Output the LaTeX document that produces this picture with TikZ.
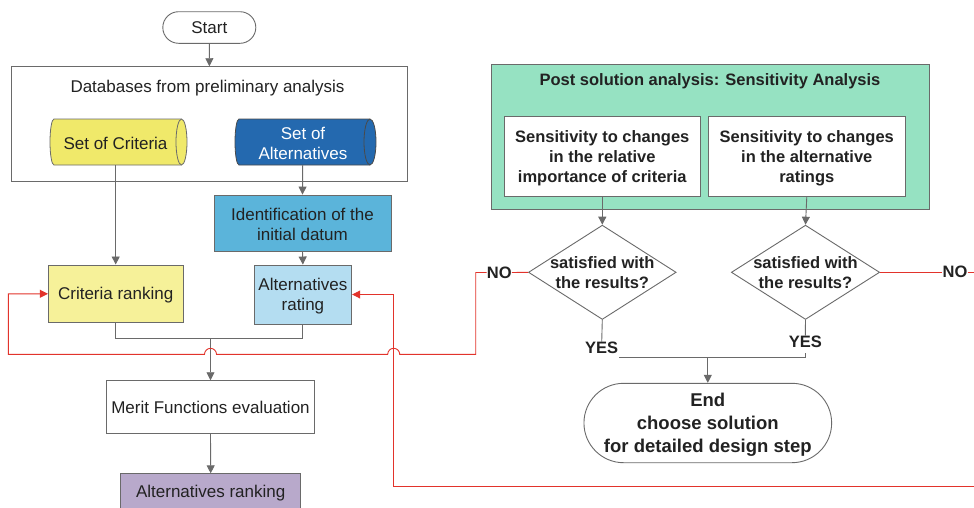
\documentclass[tikz,border=0pt]{standalone}
\usepackage{fontspec}
\setmainfont{Liberation Sans}
\usetikzlibrary{shapes.geometric,shapes.misc,arrows.meta}
\definecolor{gline}{HTML}{6A6A6A}
\definecolor{txt}{HTML}{222222}
\definecolor{cylyel}{HTML}{F0E96A}
\definecolor{lyel}{HTML}{F6F199}
\definecolor{cylblue}{HTML}{2469AF}
\definecolor{identblue}{HTML}{5BB4DA}
\definecolor{lblue}{HTML}{B4DDF1}
\definecolor{lilac}{HTML}{B8A9CB}
\definecolor{mint}{HTML}{96E2C2}
\definecolor{redl}{HTML}{E2332B}
\begin{document}
\begin{tikzpicture}[x=1pt,y=1pt,
  font=\fontsize{17}{20}\selectfont,
  box/.style={draw=gline, line width=0.9pt, rectangle, inner sep=0pt, align=center, text=txt},
  lbl/.style={inner sep=0pt, align=center, text=txt},
  bld/.style={lbl, font=\fontsize{16.5}{20}\selectfont\bfseries},
  gl/.style={draw=gline, line width=0.9pt},
  rl/.style={draw=redl, line width=0.9pt},
  arr/.style={-{Triangle[length=8pt,width=8pt]}},
]
\clip (0,0) rectangle (974,-507);
\fill[white] (0,0) rectangle (974,-507);

% left column
\node[box, rounded rectangle, minimum width=93pt, minimum height=31.6pt] (start) at (209.3,-27.5) {Start};
\node[box, minimum width=395.6pt, minimum height=114.6pt] (db) at (209.5,-124) {};
\node[lbl] (dbt) at (207.5,-88.5) {Databases from preliminary analysis};

% cylinders
\filldraw[fill=cylyel, draw=gline, line width=0.8pt]
  (54,-119) -- (181.5,-119) arc[start angle=90, end angle=-90, x radius=5.5, y radius=23]
  -- (54,-165) arc[start angle=270, end angle=90, x radius=4, y radius=23] -- cycle;
\draw[gline, line width=0.8pt] (181.5,-119) arc[start angle=90, end angle=270, x radius=5.5, y radius=23];
\node[lbl] (crit) at (115.5,-143) {Set of Criteria};

\filldraw[fill=cylblue, draw=gline!70!black, line width=0.8pt]
  (239,-119) -- (370,-119) arc[start angle=90, end angle=-90, x radius=6, y radius=23]
  -- (239,-165) arc[start angle=270, end angle=90, x radius=4, y radius=23] -- cycle;
\draw[gline!70!black, line width=0.8pt] (370,-119) arc[start angle=90, end angle=270, x radius=6, y radius=23];
\node[lbl, text=white] (alts) at (303,-143) {Set of\\Alternatives};

\node[box, fill=identblue, minimum width=177pt, minimum height=56pt] (ident) at (302.5,-223) {};
\node[lbl] (identt) at (302.5,-224) {Identification of the\\initial datum};
\node[box, fill=lyel, minimum width=134.7pt, minimum height=57.7pt] (critrank) at (115.7,-293.8) {};
\node[lbl] (critrankt) at (115.7,-294.8) {Criteria ranking};
\node[box, fill=lblue, minimum width=97.7pt, minimum height=59pt] (altrate) at (302.9,-294.5) {};
\node[lbl] (altratet) at (302.9,-296) {Alternatives\\rating};
\node[box, minimum width=208.4pt, minimum height=52.6pt] (merit) at (210.5,-407) {Merit Functions evaluation};
\node[box, fill=lilac, minimum width=180pt, minimum height=67pt, anchor=north] (altrank) at (210.7,-473.3) {};
\node[lbl] (altrankt) at (210.7,-493) {Alternatives ranking};

% left connectors
\draw[gl, arr] (start) -- (db);
\draw[gl, arr] (115.7,-165) -- (critrank.north);
\draw[gl, arr] (302.7,-165) -- (ident.north);
\draw[gl, arr] (ident.south) -- (altrate.north);
\coordinate (mj) at (210.5,-338.3);
\draw[gl] (critrank.south) |- (mj) -| (altrate.south);
\draw[gl, arr] (mj) -- (merit.north);
\draw[gl, arr] (merit.south) -- (altrank.north);

% right side
\node[box, fill=mint, minimum width=438.7pt, minimum height=145pt] (post) at (710.3,-136.8) {};
\node[bld] (postt) at (710,-81) {Post solution analysis: Sensitivity Analysis};
\node[box, fill=white, minimum width=196.7pt, minimum height=79.3pt] (sens1) at (602.3,-156.3) {};
\node[bld] (sens1t) at (602.3,-158) {Sensitivity to changes\\in the relative\\importance of criteria};
\node[box, fill=white, minimum width=197pt, minimum height=79.3pt] (sens2) at (806.8,-156.3) {};
\node[bld] (sens2t) at (806.8,-158) {Sensitivity to changes\\in the alternative\\ratings};

\node[draw=gline, line width=0.9pt, diamond, inner sep=0pt, minimum width=147.7pt, minimum height=94.3pt] (d1) at (602.3,-272.3) {};
\node[bld] (d1t) at (602.3,-272.3) {satisfied with\\the results?};
\node[draw=gline, line width=0.9pt, diamond, inner sep=0pt, minimum width=148.3pt, minimum height=94.3pt] (d2) at (805.5,-272.3) {};
\node[bld] (d2t) at (805.5,-272.3) {satisfied with\\the results?};

\draw[gl, arr] (sens1.south) -- (d1.north);
\draw[gl, arr] (sens2.south) -- (d2.north);

\node[bld] (yes1) at (601.7,-348) {YES};
\node[bld] (yes2) at (805.3,-341.7) {YES};
\node[box, rounded rectangle, fill=white, minimum width=247.7pt, minimum height=79.4pt] (end) at (707.8,-423) {};
\node[lbl, font=\fontsize{18.5}{22.8}\selectfont\bfseries] (endt) at (707.8,-424.8) {End\\choose solution\\for detailed design step};

\coordinate (yj) at (707.8,-357.3);
\draw[gl] (d1.south) -- (yes1.north);
\draw[gl] (d2.south) -- (yes2.north);
\draw[gl] (619.3,-357.3) -- (805.5,-357.3) -- (805.5,-352.5);
\draw[gl, arr] (yj) -- (end.north);

% NO branches
\node[bld] (no1) at (499.3,-272.5) {NO};
\node[bld] (no2) at (955,-272.3) {NO};
\draw[rl] (d1.west) -- (no1.east);
\draw[rl, arr] (no1.west) -- (475.7,-272.5) -- (475.7,-354.3) -- (399.7,-354.3)
  arc[start angle=0, end angle=180, radius=6] -- (216.5,-354.3)
  arc[start angle=0, end angle=180, radius=6] -- (8.3,-354.3) |- (critrank.west);
\draw[rl] (d2.east) -- (no2.west);
\draw[rl, arr] (no2.east) -- (990,-272.3) -- (990,-486) -- (393.7,-486) |- (altrate.east);

\end{tikzpicture}
\end{document}
